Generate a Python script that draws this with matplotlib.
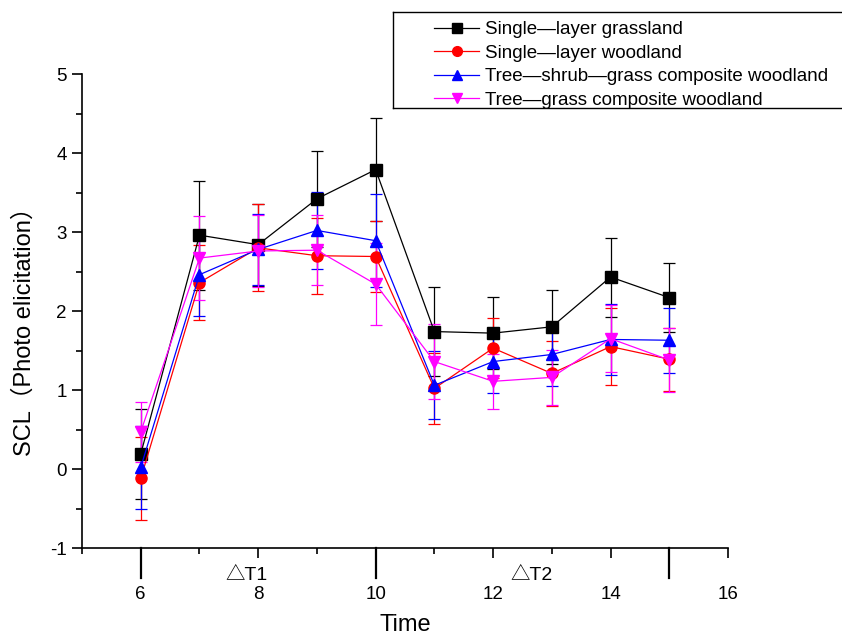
import matplotlib
matplotlib.use("Agg")
import matplotlib.pyplot as plt
from matplotlib.ticker import MultipleLocator
from matplotlib.lines import Line2D
import matplotlib.transforms as mtransforms

plt.rcParams['font.family'] = ['Liberation Sans', 'Noto Sans CJK SC', 'DejaVu Sans']
plt.rcParams['axes.unicode_minus'] = False

# --- data ---
time = [6, 7, 8, 9, 10, 11, 12, 13, 14, 15]

grassland = [0.19, 2.96, 2.84, 3.42, 3.79, 1.74, 1.72, 1.80, 2.43, 2.17]
grassland_err = [0.57, 0.69, 0.52, 0.61, 0.65, 0.56, 0.46, 0.47, 0.50, 0.44]

woodland = [-0.12, 2.36, 2.80, 2.70, 2.69, 1.02, 1.53, 1.21, 1.55, 1.39]
woodland_err = [0.53, 0.47, 0.55, 0.48, 0.45, 0.45, 0.38, 0.41, 0.49, 0.40]

tree_shrub = [0.02, 2.46, 2.78, 3.02, 2.89, 1.06, 1.36, 1.45, 1.64, 1.63]
tree_shrub_err = [0.52, 0.52, 0.45, 0.49, 0.59, 0.43, 0.40, 0.40, 0.45, 0.41]

tree_grass = [0.47, 2.67, 2.76, 2.77, 2.34, 1.36, 1.11, 1.16, 1.65, 1.38]
tree_grass_err = [0.38, 0.53, 0.45, 0.44, 0.52, 0.48, 0.35, 0.35, 0.42, 0.40]

labels = ["Single\u2014layer grassland", "Single\u2014layer woodland",
          "Tree\u2014shrub\u2014grass composite woodland", "Tree\u2014grass composite woodland"]
colors = ["black", "red", "blue", "magenta"]
markers = ["s", "o", "^", "v"]

# --- figure ---
fig = plt.figure(figsize=(8.42, 6.37), dpi=100)
ax = fig.add_axes([0.0974, 0.1397, 0.7672, 0.7441])

series = [(grassland, grassland_err), (woodland, woodland_err),
          (tree_shrub, tree_shrub_err), (tree_grass, tree_grass_err)]
for (vals, errs), lab, c, m in zip(series, labels, colors, markers):
    ax.errorbar(time, vals, yerr=errs, color=c, marker=m, markersize=8,
                linewidth=0.9, elinewidth=0.9, capsize=4, capthick=0.9,
                label=lab)

ax.set_xlim(5, 16)
ax.set_ylim(-1, 5)
ax.spines['top'].set_visible(False)
ax.spines['right'].set_visible(False)

ax.set_xticks([6, 8, 10, 12, 14, 16])
ax.xaxis.set_minor_locator(MultipleLocator(1))
ax.yaxis.set_major_locator(MultipleLocator(1))
ax.yaxis.set_minor_locator(MultipleLocator(0.5))
ax.tick_params(axis='x', which='major', direction='out', length=7, width=1.2,
               labelsize=13.5, pad=20)
ax.tick_params(axis='x', which='minor', direction='out', length=4, width=1.2)
ax.tick_params(axis='y', which='major', direction='out', length=7, width=1.2,
               labelsize=13.5, pad=4)
ax.tick_params(axis='y', which='minor', direction='out', length=4, width=1.2)
for sp in ['left', 'bottom']:
    ax.spines[sp].set_linewidth(1.2)

# long marks under the axis separating the time periods
trans = mtransforms.blended_transform_factory(ax.transData, ax.transAxes)
for xv in [6, 10, 15]:
    ax.plot([xv, xv], [0, -0.063], color='black', linewidth=1.6,
            transform=trans, clip_on=False)

ax.text(7.8, -0.058, "\u25b3T1", transform=trans, ha='center', va='center', fontsize=14)
ax.text(12.65, -0.058, "\u25b3T2", transform=trans, ha='center', va='center', fontsize=14)

ax.set_xlabel("Time", fontsize=17, labelpad=8)
ax.set_ylabel("SCL\uff08Photo elicitation\uff09", fontsize=17)
ax.yaxis.set_label_coords(-0.072, 0.468)

# legend frame: left, top and bottom edges, running off the right side
x0, x1 = 393 / 842, 1.0
y0, y1 = 1 - 108 / 637, 1 - 12 / 637
for xs, ys in [([x0, x1], [y1, y1]), ([x0, x1], [y0, y0]), ([x0, x0], [y0, y1])]:
    fig.add_artist(Line2D(xs, ys, color='black', linewidth=1.0,
                          transform=fig.transFigure))
handles = [Line2D([], [], color=c, marker=m, markersize=7, linewidth=0.9)
           for c, m in zip(colors, markers)]
fig.legend(handles=handles, labels=labels, loc='upper left',
           bbox_to_anchor=(434 / 842, 1 - 21 / 637), fontsize=13.5,
           frameon=False, handlelength=2.4, borderpad=0, labelspacing=0.34,
           handletextpad=0.3, borderaxespad=0)

fig.savefig("out.png", dpi=100)
